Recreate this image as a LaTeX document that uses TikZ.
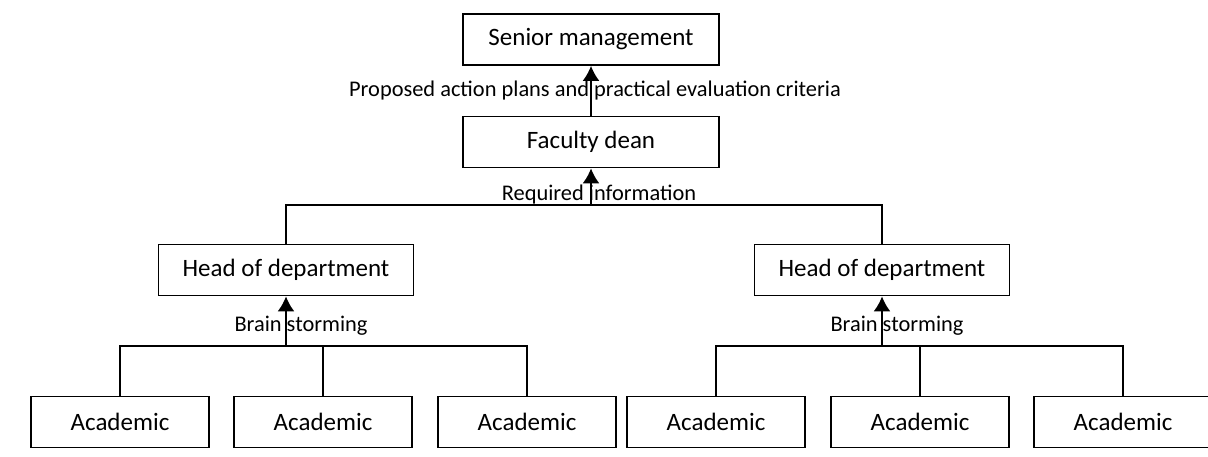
\documentclass[tikz,border=0pt]{standalone}
\usepackage{fontspec}
\setmainfont{Carlito}
\usetikzlibrary{arrows.meta}

\begin{document}
\begin{tikzpicture}[x=0.5pt, y=0.5pt,
			unit/.style={draw, minimum height=25.5pt, inner sep=0pt, font=\fontsize{12.5}{15}\selectfont},
			note/.style={inner sep=1pt, font=\fontsize{11.2}{13}\selectfont},
			>={Latex[length=7.5pt,width=8.5pt]},   %Pfeilspitzen
			line width=0.9pt]
			%Bildbereich
			\useasboundingbox (0,0) rectangle (1208,456);
			% Kaesten
			\node[unit, minimum width=128pt] (senior) at (591,416.5) {Senior management};
			\node[unit, minimum width=128pt] (dean) at (591,314) {Faculty dean};
			\node[unit, minimum width=127.5pt] (headL) at (286,186) {Head of department};
			\node[unit, minimum width=127.5pt] (headR) at (882,186) {Head of department};
			\foreach \n/\x in {1/120,2/323,3/527,4/716,5/920,6/1123}
				\node[unit, minimum width=89pt] (acad\n) at (\x,34) {Academic};
			% Verbindungen
			\coordinate (top) at (591,251);
			\coordinate (barL) at (286,110);
			\coordinate (barR) at (882,110);
			\draw (headL.north) |- (top) -| (headR.north);
			\draw (acad1.north) |- (barL) -| (acad3.north);
			\draw (acad2.north) -- (acad2.north |- barL);
			\draw (acad4.north) |- (barR) -| (acad6.north);
			\draw (acad5.north) -- (acad5.north |- barR);
			% Pfeile
			\draw[->] (dean.north) -- (senior.south);
			\draw[->] (top) -- (dean.south);
			\draw[->] (barL) -- (headL.south);
			\draw[->] (barR) -- (headR.south);
			% Beschriftung
			\path (dean.north) -- (senior.south) node[midway, note, xshift=2pt] (plans) {Proposed action plans and practical evaluation criteria};
			\node[note, anchor=south] (reqinfo) at ([xshift=4pt, yshift=-1pt]top) {Required information};
			\node[note] (brainL) at ([xshift=7.5pt, yshift=10pt]barL) {Brain storming};
			\node[note] (brainR) at ([xshift=7.5pt, yshift=10pt]barR) {Brain storming};
		\end{tikzpicture}
\end{document}
